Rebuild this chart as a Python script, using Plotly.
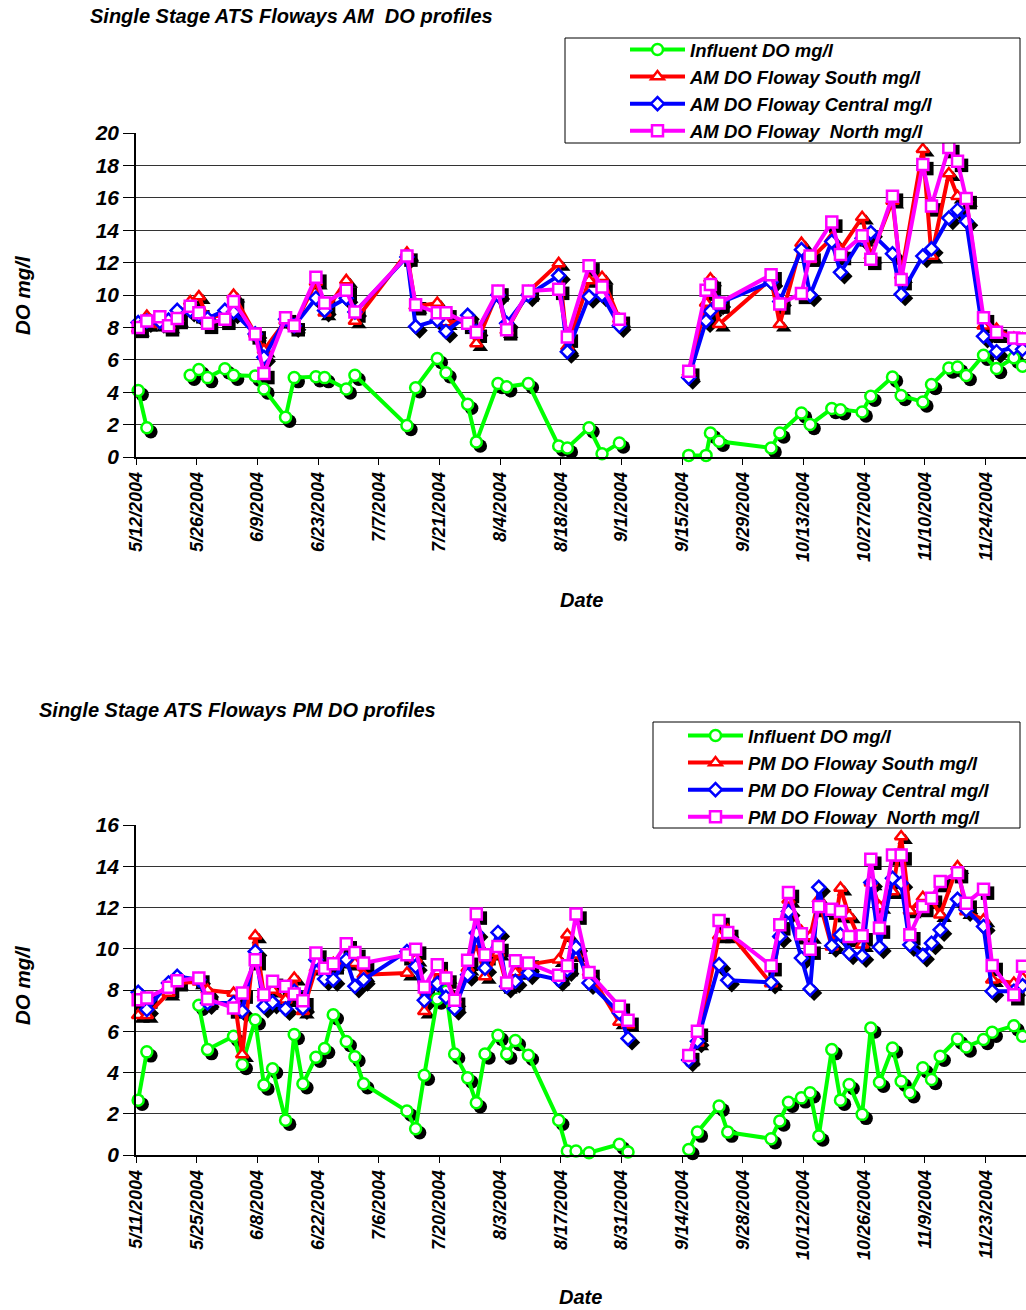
import plotly.graph_objects as go
import pandas as pd

# ---------------- data ----------------
am_dates = ["2004-05-12","2004-05-14","2004-05-17","2004-05-19","2004-05-21","2004-05-24","2004-05-26","2004-05-28",
            "2004-06-01","2004-06-03","2004-06-08","2004-06-10","2004-06-15","2004-06-17","2004-06-22","2004-06-24","2004-06-29",
            "2004-07-01","2004-07-13","2004-07-15","2004-07-20","2004-07-22","2004-07-27","2004-07-29",
            "2004-08-03","2004-08-05","2004-08-10","2004-08-17","2004-08-19","2004-08-24","2004-08-27","2004-08-31",
            "2004-09-07","2004-09-16","2004-09-20","2004-09-21","2004-09-23",
            "2004-10-05","2004-10-07","2004-10-12","2004-10-14","2004-10-19","2004-10-21","2004-10-26","2004-10-28",
            "2004-11-02","2004-11-04","2004-11-09","2004-11-11","2004-11-15","2004-11-17","2004-11-19","2004-11-23","2004-11-26","2004-11-30",
            "2004-12-02"]
am_influent = [4.1,1.8,None,None,None,5.05,5.4,4.9,
               5.45,5.05,5.0,4.2,2.45,4.9,4.95,4.9,4.2,
               5.05,1.95,4.27,6.08,5.2,3.26,0.93,
               4.54,4.33,4.54,0.68,0.56,1.81,0.2,0.87,
               None,0.1,0.1,1.48,0.97,
               0.56,1.48,2.72,2.0,2.99,2.92,2.78,3.75,
               4.94,3.79,3.4,4.47,5.5,5.56,5.03,6.28,5.46,6.12,
               5.6]
am_south = [7.9,8.7,8.2,8.1,8.5,9.6,9.9,8.6,
            8.8,10.0,7.6,6.6,8.4,8.1,10.8,8.9,10.9,
            8.4,12.6,9.3,9.5,8.3,8.4,7.0,
            10.2,7.8,10.2,11.95,6.8,10.9,11.1,8.5,
            None,5.2,9.5,11.0,8.2,
            11.0,8.2,13.2,12.2,13.5,12.8,14.8,12.4,
            15.8,11.2,19.0,12.4,17.5,16.1,15.9,8.1,7.9,7.35,
            7.3]
am_central = [8.3,8.4,8.35,8.45,9.05,9.05,8.75,8.55,
              9.05,8.95,7.6,6.15,8.5,8.1,9.8,9.05,9.8,
              8.95,12.35,8.05,8.45,7.75,8.75,7.75,
              10.0,8.25,10.0,11.2,6.5,9.9,10.0,8.1,
              None,4.9,8.4,9.0,9.5,
              10.8,9.6,12.8,10.0,13.3,11.4,13.5,13.85,
              12.55,10.05,12.4,12.85,14.75,15.25,14.55,7.45,6.5,6.75,
              6.65]
am_north = [8.0,8.4,8.65,8.1,8.55,9.3,8.9,8.25,
            8.5,9.6,7.6,5.15,8.6,8.1,11.1,9.5,10.3,
            8.95,12.4,9.4,8.9,8.9,8.25,7.7,
            10.25,7.85,10.25,10.35,7.4,11.8,10.5,8.5,
            None,5.3,10.3,10.65,9.5,
            11.25,9.45,10.1,12.4,14.5,12.5,13.65,12.2,
            16.1,10.95,18.05,15.5,19.1,18.25,15.95,8.6,7.7,7.35,
            7.3]

pm_dates = ["2004-05-11","2004-05-13","2004-05-18","2004-05-20","2004-05-25","2004-05-27",
            "2004-06-02","2004-06-04","2004-06-07","2004-06-09","2004-06-11","2004-06-14","2004-06-16","2004-06-18",
            "2004-06-21","2004-06-23","2004-06-25","2004-06-28","2004-06-30",
            "2004-07-02","2004-07-12","2004-07-14","2004-07-16","2004-07-19","2004-07-21","2004-07-23","2004-07-26","2004-07-28","2004-07-30",
            "2004-08-02","2004-08-04","2004-08-06","2004-08-09","2004-08-16","2004-08-18","2004-08-20","2004-08-23","2004-08-30",
            "2004-09-01","2004-09-08","2004-09-15","2004-09-17","2004-09-22","2004-09-24",
            "2004-10-04","2004-10-06","2004-10-08","2004-10-11","2004-10-13","2004-10-15","2004-10-18","2004-10-20","2004-10-22",
            "2004-10-25","2004-10-27","2004-10-29",
            "2004-11-01","2004-11-03","2004-11-05","2004-11-08","2004-11-10","2004-11-12","2004-11-16","2004-11-18","2004-11-22",
            "2004-11-24","2004-11-29","2004-12-01"]
pm_influent = [2.66,5.0,None,None,7.26,5.11,
               5.76,4.39,6.56,3.39,4.18,1.69,5.84,3.45,
               4.74,5.16,6.8,5.5,4.76,
               3.45,2.13,1.27,3.87,7.56,7.94,4.9,3.74,2.53,4.9,
               5.8,4.9,5.55,4.84,1.68,0.19,0.19,0.11,0.52,
               0.15,None,0.27,1.11,2.37,1.11,
               0.79,1.65,2.56,2.77,3.02,0.92,5.11,2.66,3.42,
               1.97,6.16,3.53,
               5.19,3.58,3.02,4.23,3.66,4.79,5.63,5.24,5.6,
               5.95,6.27,5.76]
pm_south = [6.77,6.77,7.85,8.34,8.4,8.0,
            7.85,4.87,10.63,7.77,8.0,7.53,8.58,6.97,
            9.06,8.98,9.3,9.4,9.3,
            8.74,8.82,9.5,6.97,8.9,8.66,7.53,9.06,10.27,8.66,
            9.79,8.26,8.85,9.23,9.47,10.68,9.71,8.85,6.45,
            6.32,None,4.71,5.44,10.63,10.89,
            8.31,10.68,12.37,10.84,10.6,12.4,10.1,12.94,11.6,
            10.2,13.2,12.05,
            12.77,15.44,11.84,12.5,12.4,11.65,13.98,11.8,11.4,
            8.5,8.34,8.58]
pm_central = [7.89,7.05,8.34,8.66,8.5,7.37,
              7.37,6.97,9.87,7.21,7.4,7.08,7.94,7.13,
              9.47,8.53,8.5,9.47,8.18,
              8.5,9.87,9.15,7.5,8.31,7.65,7.1,8.74,10.76,9.06,
              10.79,8.18,8.42,8.82,8.5,8.98,10.08,8.34,6.89,
              5.65,None,4.6,5.52,9.23,8.47,
              8.37,10.6,11.8,9.55,8.05,12.98,10.15,10.68,9.79,
              9.66,13.21,10.08,
              13.42,13.18,10.19,9.68,10.27,10.92,12.4,11.89,11.08,
              7.94,7.94,8.21]
pm_north = [7.53,7.61,8.13,8.45,8.58,7.56,
            7.13,7.85,9.47,7.77,8.42,8.18,7.8,7.48,
            9.79,9.06,9.27,10.24,9.82,
            9.31,9.71,9.98,8.15,9.23,8.58,7.5,9.44,11.68,9.71,
            10.11,8.34,9.42,9.31,8.71,9.18,11.68,8.85,7.21,
            6.53,None,4.82,6.0,11.37,10.79,
            9.18,11.16,12.73,10.73,9.98,12.05,11.92,11.8,10.6,
            10.63,14.34,11.0,
            14.55,14.55,10.68,12.05,12.45,13.26,13.69,12.21,12.89,
            9.19,7.77,9.15]

am_names = ["Influent DO mg/l", "AM DO Floway South mg/l", "AM DO Floway Central mg/l", "AM DO Floway  North mg/l"]
pm_names = ["Influent DO mg/l", "PM DO Floway South mg/l", "PM DO Floway Central mg/l", "PM DO Floway  North mg/l"]
am_title = "Single Stage ATS Floways AM  DO profiles"
pm_title = "Single Stage ATS Floways PM DO profiles"
y_title = "DO mg/l"
x_title = "Date"

for arr in (am_influent, am_south, am_central, am_north):
    assert len(arr) == len(am_dates), len(arr)
for arr in (pm_influent, pm_south, pm_central, pm_north):
    assert len(arr) == len(pm_dates), len(arr)

# ---------------- styling ----------------
W, H = 1026, 1310
FONT = "Liberation Sans, Arial, sans-serif"
colors = ["#00FF00", "#FF0000", "#0000FF", "#FF00FF"]
symbols = ["circle", "triangle-up", "diamond", "square"]
msizes = [11, 11, 10, 11]

PLOT_L = 136
am_px = (133, 457)   # top, bottom pixel of AM plot area
pm_px = (825, 1155)
am_ymax, pm_ymax = 20, 16
span_days = 205.3
SHADOW = 4  # px


def ydom(px):
    return [1 - px[1] / H, 1 - px[0] / H]


def date_axis_setup(start):
    s = pd.Timestamp(start) - pd.Timedelta(hours=12)
    e = s + pd.Timedelta(days=span_days)
    tickvals, ticktext = [], []
    for k in range(15):
        d = pd.Timestamp(start) + pd.Timedelta(days=14 * k)
        tickvals.append(s + pd.Timedelta(days=14 * k))
        ticktext.append(f"{d.month}/{d.day}/{d.year}")
    return s, e, tickvals, ticktext


fig = go.Figure()

bi = dict(family=FONT, color="black", weight="bold", style="italic")


def add_chart(dates, series, names, xb, yb, xo, yo, legend_id):
    # shadows on base axes (drawn beneath)
    for vals, sym, ms in zip(series, symbols, msizes):
        fig.add_trace(go.Scatter(x=dates, y=vals, mode="markers", xaxis=xb, yaxis=yb,
                                 marker=dict(symbol=sym, size=ms + 2.5, color="black",
                                             line=dict(color="black", width=0)),
                                 showlegend=False, hoverinfo="skip", cliponaxis=False))
    for vals, name, col, sym, ms in zip(series, names, colors, symbols, msizes):
        fig.add_trace(go.Scatter(x=dates, y=vals, name=name, mode="lines+markers",
                                 xaxis=xo, yaxis=yo, connectgaps=False, legend=legend_id,
                                 line=dict(color=col, width=4),
                                 marker=dict(symbol=sym, size=ms, color="white",
                                             line=dict(color=col, width=2.5)),
                                 cliponaxis=False))


add_chart(am_dates, [am_influent, am_south, am_central, am_north], am_names, "x", "y", "x2", "y2", "legend")
add_chart(pm_dates, [pm_influent, pm_south, pm_central, pm_north], pm_names, "x3", "y3", "x4", "y4", "legend2")

xdom = [PLOT_L / W, 1]


def axes_for(start, px, ymax, base_x, base_y, ov_x, ov_y):
    s, e, tv, tt = date_axis_setup(start)
    plot_w = W - PLOT_L
    plot_h = px[1] - px[0]
    dx = pd.Timedelta(days=span_days * SHADOW / plot_w)
    dy = ymax * SHADOW / plot_h
    layout = {}
    layout[base_x] = dict(domain=xdom, type="date", range=[s - dx, e - dx], visible=False,
                          anchor=base_y.replace("axis", ""), automargin=False)
    layout[base_y] = dict(domain=ydom(px), range=[dy, ymax + dy], visible=False,
                          anchor=base_x.replace("axis", ""), automargin=False)
    layout[ov_x] = dict(overlaying=base_x.replace("axis", ""), anchor=ov_y.replace("axis", ""),
                        type="date", range=[s, e], tickmode="array", tickvals=tv, ticktext=tt,
                        tickangle=-90, ticks="outside", ticklen=6, tickcolor="black", tickwidth=1,
                        showline=True, linecolor="black", linewidth=1.5, showgrid=False,
                        zeroline=False, tickfont=dict(size=18, **bi), automargin=False)
    layout[ov_y] = dict(overlaying=base_y.replace("axis", ""), anchor=ov_x.replace("axis", ""),
                        range=[0, ymax], dtick=2, tick0=0, ticks="outside", ticklen=11,
                        tickcolor="black", tickwidth=1, showline=True, linecolor="black",
                        linewidth=1.5, showgrid=True, gridcolor="#333333", gridwidth=1,
                        zeroline=False, tickfont=dict(size=21, **bi), automargin=False)
    return layout


lay = {}
lay.update(axes_for("2004-05-12", am_px, am_ymax, "xaxis", "yaxis", "xaxis2", "yaxis2"))
lay.update(axes_for("2004-05-11", pm_px, pm_ymax, "xaxis3", "yaxis3", "xaxis4", "yaxis4"))
fig.update_layout(**lay)


def px2paper(x, y):
    return x / W, 1 - y / H


annots = []
for text, x, y, ang, anchor, size in [
    (am_title, 88, 16, 0, "left", 20),
    (y_title, 22, 295, -90, "center", 20.5),
    (x_title, 581, 600, 0, "center", 20),
    (pm_title, 37, 710, 0, "left", 20),
    (y_title, 22, 985, -90, "center", 20.5),
    (x_title, 580, 1297, 0, "center", 20),
]:
    xp, yp = px2paper(x, y)
    annots.append(dict(text=text, x=xp, y=yp, xref="paper", yref="paper", xanchor=anchor,
                       yanchor="middle", showarrow=False, textangle=ang,
                       font=dict(size=size, **bi)))

shapes = []
for (x0, y0, x1, y1) in [(565, 38, 1020, 143), (653, 722, 1020, 828)]:
    a0, b0 = px2paper(x0, y0)
    a1, b1 = px2paper(x1, y1)
    shapes.append(dict(type="rect", xref="paper", yref="paper", x0=a0, y0=b1, x1=a1, y1=b0,
                       fillcolor="white", line=dict(color="black", width=1), layer="above"))

lx1, ly1 = px2paper(625, 31)
lx2, ly2 = px2paper(683, 717)
legend_common = dict(bgcolor="rgba(0,0,0,0)", borderwidth=0, font=dict(size=18.5, **bi),
                     xanchor="left", yanchor="top", itemwidth=55, tracegroupgap=0)

fig.update_layout(
    width=W, height=H, margin=dict(l=0, r=0, t=0, b=0, autoexpand=False),
    paper_bgcolor="white", plot_bgcolor="white",
    annotations=annots, shapes=shapes,
    legend=dict(x=lx1, y=ly1, **legend_common),
    legend2=dict(x=lx2, y=ly2, **legend_common),
)

fig.write_html("out.html")
